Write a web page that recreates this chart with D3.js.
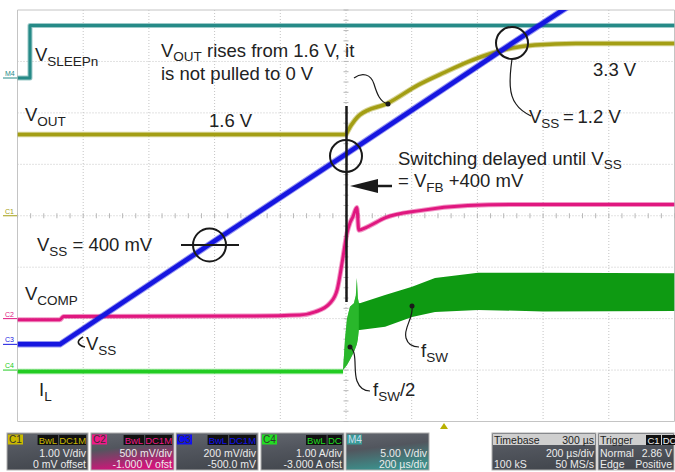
<!DOCTYPE html>
<html><head><meta charset="utf-8">
<script src="https://cdn.jsdelivr.net/npm/d3@7"></script>
<style>html,body{margin:0;padding:0;background:#fff;overflow:hidden}text{white-space:pre}</style>
</head><body><svg id="c" width="675" height="472"></svg>
<script>
// ---- data (time in µs relative to screen centre, 200 µs/div) ----
const timeDomain = [-1000, 1000];
const channelNames = ["C1", "C2", "C3", "C4", "M4"];
const channelPerDiv = [1.0, 0.5, 0.2, 1.0, 5.0];      // units per division
const channelOffset = [0, -1.0, -0.5, -3.0, 13.39];   // offsets (V / A)
const channelColors = ["#a39e14", "#e0177f", "#1616e0", "#22cc22", "#268a87"];

// M4: V_SLEEPn
const sleepT = [-1000, -962, -962, 1000];
const sleepV = [0, 0, 5.1, 5.1];
// C1: V_OUT
const voutT = [-1000, 0, 3, 27, 42, 128, 219, 301, 371, 444, 505, 575, 700, 1000];
const voutV = [1.58, 1.58, 1.62, 1.86, 1.96, 2.19, 2.54, 2.79, 2.99, 3.16, 3.26, 3.32, 3.35, 3.35];
// C3: V_SS
const vssT = [-1000, -871, -402, 0, 505, 720];
const vssV = [0.0, 0.0, 0.40, 0.74, 1.17, 1.35];
// C2: V_COMP
const vcompT = [-1000, -871, -860, -300, -140, -94, -49, -27, -12, 3, 12, 21, 33, 39, 64, 119, 225, 371, 500, 1000];
const vcompV = [-0.01, -0.01, 0.02, 0.025, 0.035, 0.065, 0.15, 0.28, 0.54, 0.83, 0.93, 0.99, 1.08, 0.86, 0.89, 0.98, 1.05, 1.10, 1.11, 1.11];
// C4: I_L (flat part + switching envelope)
const ilT = [-1000, -9];
const ilV = [-0.03, -0.03];
const envT  = [-9, -3, 3, 12, 24, 30, 33, 36, 39, 42, 119, 201, 271, 402, 600, 1000];
const envHi = [0, 0.6, 1.0, 1.23, 1.3, 1.45, 1.79, 1.4, 1.31, 1.30, 1.46, 1.62, 1.79, 1.89, 1.89, 1.88];
const envLo = [0, 0.05, 0.1, 0.2, 0.35, 0.45, 0.5, 0.6, 0.78, 0.78, 0.84, 1.03, 1.13, 1.17, 1.14, 1.15];
const halfFswEnd = 39;

// ---- layout ----
const L = 17.5, R = 674.5, T = 10, B = 421.5;
const svg = d3.select("#c");
const font = "'Liberation Sans', Arial, sans-serif";
const x = d3.scaleLinear().domain(timeDomain).range([L, R]);
const divY = d3.scaleLinear().domain([-4, 4]).range([B, T]);
function chanScale(i) {
  const c = -channelOffset[i], p = channelPerDiv[i];
  return d3.scaleLinear().domain([c - 4 * p, c + 4 * p]).range([B, T]);
}
const ys = channelNames.map((_, i) => chanScale(i));

svg.append("rect").attr("width", 675).attr("height", 472).attr("fill", "#fff");
const defs = svg.append("defs");
defs.append("clipPath").attr("id", "plot").append("rect").attr("x", L).attr("y", T).attr("width", R - L).attr("height", B - T);

// grid
const grid = svg.append("g");
d3.range(0, 11).forEach(i => {
  const xx = x(timeDomain[0] + i * 200);
  grid.append("line").attr("x1", xx).attr("x2", xx).attr("y1", T).attr("y2", B)
    .attr("stroke", "#c4c4c4").attr("stroke-width", 1)
    .attr("stroke-dasharray", (i === 0 || i === 10) ? null : "1,2");
});
d3.range(-4, 5).forEach(j => {
  const yy = divY(j);
  grid.append("line").attr("x1", L).attr("x2", R).attr("y1", yy).attr("y2", yy)
    .attr("stroke", "#c4c4c4").attr("stroke-width", 1)
    .attr("stroke-dasharray", (j === -4 || j === 4) ? null : "1,2");
});
// minor ticks on centre axes
d3.range(-1000, 1001, 40).forEach(t => {
  grid.append("line").attr("x1", x(t)).attr("x2", x(t)).attr("y1", divY(0) - 2.5).attr("y2", divY(0) + 2.5)
    .attr("stroke", "#b8b8b8");
});
d3.range(-4, 4.01, 0.2).forEach(d => {
  grid.append("line").attr("x1", x(0) - 2.5).attr("x2", x(0) + 2.5).attr("y1", divY(d)).attr("y2", divY(d))
    .attr("stroke", "#b8b8b8");
});

// traces
const traces = svg.append("g").attr("clip-path", "url(#plot)");
function trace(ts, vs, ci, w, curve) {
  const data = ts.map((t, k) => [t, vs[k]]);
  const ln = d3.line().x(d => x(d[0])).y(d => ys[ci](d[1])).curve(curve || d3.curveLinear);
  traces.append("path").attr("d", ln(data)).attr("fill", "none")
    .attr("stroke", channelColors[ci]).attr("stroke-opacity", 0.45).attr("stroke-width", w + 2).attr("stroke-linejoin", "round");
  traces.append("path").attr("d", ln(data)).attr("fill", "none")
    .attr("stroke", channelColors[ci]).attr("stroke-width", w).attr("stroke-linejoin", "round");
}
trace(sleepT, sleepV, 4, 3);
trace(voutT, voutV, 0, 3.5, d3.curveMonotoneX);
// inductor current envelope
const envData = envT.map((t, k) => [t, envHi[k], envLo[k]]);
const area = d3.area().x(d => x(d[0])).y0(d => ys[3](d[2])).y1(d => ys[3](d[1]));
traces.append("path").attr("d", area(envData)).attr("fill", "#0e9a12");
traces.append("path").attr("d", area(envData.filter(d => d[0] <= halfFswEnd))).attr("fill", "#3fd03f").attr("opacity", 0.55);
trace(ilT, ilV, 3, 3.5);
trace(vcompT, vcompV, 1, 3, d3.curveMonotoneX);
trace(vssT, vssV, 2, 4.5);

// ground markers
const markers = svg.append("g").attr("font-family", font).attr("font-size", 7);
[0, 1, 2, 3, 4].forEach(ci => {
  const yy = ys[ci](0);
  markers.append("line").attr("x1", 3).attr("x2", 17).attr("y1", yy).attr("y2", yy)
    .attr("stroke", channelColors[ci]).attr("stroke-width", 1);
  markers.append("text").attr("x", 5).attr("y", yy - 2).attr("fill", channelColors[ci]).text(channelNames[ci]);
});

// annotations
const ann = svg.append("g").attr("font-family", font).attr("fill", "#222");
function rich(xx, yy, parts, size, drop) {
  size = size || 18.5;
  drop = drop || 4.5;
  const t = ann.append("text").attr("x", xx).attr("y", yy).attr("font-size", size);
  let shift = 0;
  parts.forEach(p => {
    const sub = Array.isArray(p);
    const s = sub ? p[0] : p;
    const target = sub ? drop : 0;
    const ts = t.append("tspan").text(s).attr("dy", target - shift);
    shift = target;
    if (sub) ts.attr("font-size", size * 0.73);
  });
}
rich(35, 61, ["V", ["SLEEPn"]]);
rich(161, 57, ["V", ["OUT"], " rises from 1.6 V, it"], 18.5, 3.5);
rich(161, 80, ["is not pulled to 0 V"]);
rich(25, 121, ["V", ["OUT"]]);
rich(209, 127, ["1.6 V"]);
rich(593, 76, ["3.3 V"]);
rich(529, 123, ["V", ["SS"], "\u2009=\u20091.2 V"]);
rich(398, 164.5, ["Switching delayed until V", ["SS"]]);
rich(398, 187, ["= V", ["FB"], " +400 mV"]);
rich(37, 251, ["V", ["SS"], " = 400 mV"]);
rich(25, 300, ["V", ["COMP"]]);
rich(86, 350, ["V", ["SS"]]);
rich(39, 396, ["I", ["L"]]);
rich(421, 357, ["f", ["SW"]]);
rich(373, 396, ["f", ["SW"], "/2"]);

const dr = svg.append("g").attr("fill", "none").attr("stroke", "#1a1a1a");
dr.append("circle").attr("cx", 346).attr("cy", 156).attr("r", 16).attr("stroke-width", 2);
dr.append("circle").attr("cx", 512).attr("cy", 43).attr("r", 16).attr("stroke-width", 2);
dr.append("circle").attr("cx", 209.5).attr("cy", 245).attr("r", 16.5).attr("stroke-width", 2);
dr.append("line").attr("x1", 181).attr("x2", 239).attr("y1", 245).attr("y2", 245).attr("stroke-width", 2);
dr.append("line").attr("x1", 346.5).attr("x2", 346.5).attr("y1", 106).attr("y2", 302).attr("stroke-width", 2.5);
dr.append("line").attr("x1", 392).attr("x2", 372).attr("y1", 186).attr("y2", 186).attr("stroke-width", 2.5);
svg.append("path").attr("d", "M350,186 L378,179 L378,193 Z").attr("fill", "#1a1a1a");
dr.append("path").attr("d", "M354,78 C362,72 371,74 374,84 C377,94 380,102 388,104").attr("stroke-width", 1.2);
dr.append("path").attr("d", "M512,59 C509,80 509,95 516,104 C520,110 525,113 531,116").attr("stroke-width", 1.2);
dr.append("path").attr("d", "M412,306 C414,318 403,328 406,338 C408,345 413,347 419,347").attr("stroke-width", 1.2);
dr.append("path").attr("d", "M350,347 C358,352 353,370 357,381 C360,389 365,391 370,391").attr("stroke-width", 1.2);
dr.append("path").attr("d", "M83,337 C76,341 77,345 85,347").attr("stroke-width", 1.6);
[[388, 104], [412, 306], [350, 347]].forEach(([cx, cy]) =>
  svg.append("circle").attr("cx", cx).attr("cy", cy).attr("r", 2.5).attr("fill", "#1a1a1a"));

// trigger position marker
svg.append("path").attr("d", "M444,423 L448,429 L440,429 Z").attr("fill", "#b8b000");

// ---- status boxes ----
const bx = svg.append("g").attr("font-family", font);
function grad(id, bottomColor) {
  const g = defs.append("linearGradient").attr("id", id).attr("x1", 0).attr("y1", 0).attr("x2", 0.25).attr("y2", 1);
  g.append("stop").attr("offset", "0").attr("stop-color", "#62666e");
  g.append("stop").attr("offset", "0.45").attr("stop-color", "#52565e");
  g.append("stop").attr("offset", "1").attr("stop-color", bottomColor);
}
grad("gGray", "#44484f");
grad("gPink", "#d0157a");
grad("gTeal", "#3c8e8a");
const Y0 = 433, H = 37;
function chanBox(x0, w, label, color, tags, l2, l3, g, labelFg) {
  bx.append("rect").attr("x", x0).attr("y", Y0).attr("width", w).attr("height", H)
    .attr("fill", `url(#${g})`).attr("stroke", "#b0b0b0").attr("stroke-width", 1);
  bx.append("rect").attr("x", x0 + 1).attr("y", Y0 + 1.5).attr("width", 15).attr("height", 10).attr("fill", color);
  bx.append("text").attr("x", x0 + 2).attr("y", Y0 + 10).attr("font-size", 10).attr("fill", labelFg || "#333").text(label);
  let tx = x0 + w - 2;
  tags.slice().reverse().forEach(tg => {
    const tw = tg.length * 6.2 + 2;
    tx -= tw;
    bx.append("rect").attr("x", tx).attr("y", Y0 + 2).attr("width", tw).attr("height", 10).attr("fill", "#111");
    bx.append("text").attr("x", tx + tw / 2).attr("y", Y0 + 10.5).attr("text-anchor", "middle").attr("font-size", 9.5).attr("fill", color).text(tg);
    tx -= 1;
  });
  bx.append("text").attr("x", x0 + w - 2).attr("y", Y0 + 24).attr("text-anchor", "end").attr("font-size", 10.5).attr("fill", "#ececec").text(l2);
  bx.append("text").attr("x", x0 + w - 2).attr("y", Y0 + 35).attr("text-anchor", "end").attr("font-size", 10.5).attr("fill", "#ececec").text(l3);
}
chanBox(7, 81, "C1", "#c9b800", ["BwL", "DC1M"], "1.00 V/div", "0 mV offset", "gGray");
chanBox(91, 83, "C2", "#ee1a88", ["BwL", "DC1M"], "500 mV/div", "-1.000 V ofst", "gPink");
chanBox(176, 82, "C3", "#1010ee", ["BwL", "DC1M"], "200 mV/div", "-500.0 mV", "gGray");
chanBox(261, 83, "C4", "#22dd22", ["BwL", "DC"], "1.00 A/div", "-3.000 A ofst", "gGray");
chanBox(346, 83, "M4", "#3a9a96", [], "5.00 V/div", "200 \u00b5s/div", "gTeal", "#cde");

function infoBox(x0, w, title, titleR, tags, rows) {
  bx.append("rect").attr("x", x0).attr("y", Y0).attr("width", w).attr("height", H)
    .attr("fill", "url(#gGray)").attr("stroke", "#b0b0b0");
  bx.append("rect").attr("x", x0 + 1).attr("y", Y0 + 1).attr("width", w - 2).attr("height", 11).attr("fill", "#cfcfcf");
  bx.append("text").attr("x", x0 + 2).attr("y", Y0 + 10.5).attr("font-size", 10.5).attr("fill", "#222").text(title);
  if (titleR) bx.append("text").attr("x", x0 + w - 2).attr("y", Y0 + 10.5).attr("text-anchor", "end").attr("font-size", 10.5).attr("fill", "#222").text(titleR);
  let tx = x0 + 48;
  tags.forEach(tg => {
    const tw = tg.length * 6.5 + 2;
    bx.append("rect").attr("x", tx).attr("y", Y0 + 2).attr("width", tw).attr("height", 10).attr("fill", "#111");
    bx.append("text").attr("x", tx + tw / 2).attr("y", Y0 + 10.5).attr("text-anchor", "middle").attr("font-size", 9.5).attr("fill", "#eee").text(tg);
    tx += tw + 1;
  });
  rows.forEach((r, k) => {
    const yy = Y0 + 24 + k * 11;
    if (r[0]) bx.append("text").attr("x", x0 + 2).attr("y", yy).attr("font-size", 10.5).attr("fill", "#ececec").text(r[0]);
    if (r[1]) bx.append("text").attr("x", x0 + w - 2).attr("y", yy).attr("text-anchor", "end").attr("font-size", 10.5).attr("fill", "#ececec").text(r[1]);
  });
}
infoBox(492, 104, "Timebase", "300 \u00b5s", [], [["", "200 \u00b5s/div"], ["100 kS", "50 MS/s"]]);
infoBox(598, 76, "Trigger", null, ["C1", "DC"], [["Normal", "2.86 V"], ["Edge", "Positive"]]);
</script>
</body></html>
